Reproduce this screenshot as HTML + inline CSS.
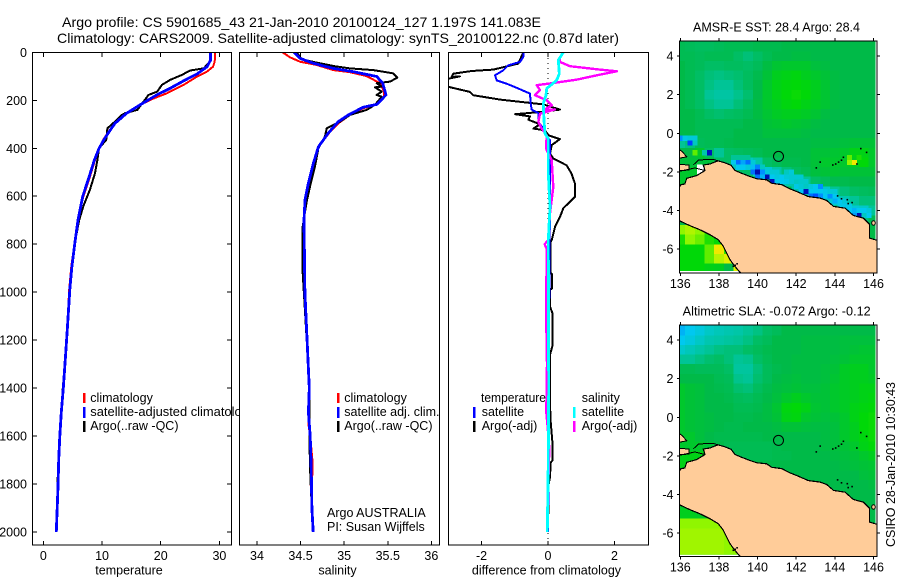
<!DOCTYPE html>
<html lang="en">
<head>
<meta charset="utf-8">
<title>Argo profile chart</title>
<style>
html,body{margin:0;padding:0;background:#fff;}
svg{display:block;}
text{font-family:"Liberation Sans",sans-serif;font-size:12.5px;fill:#000;}
.crisp{shape-rendering:crispEdges;}
.title{font-size:14px;}
.map-title{font-size:12.5px;}
</style>
</head>
<body>
<svg id="chart" xmlns="http://www.w3.org/2000/svg" width="900" height="580" viewBox="0 0 900 580">
  <rect x="0" y="0" width="900" height="580" fill="#fff"/>
  <defs>
    <clipPath id="clip-temp"><rect x="32.5" y="52.5" width="199" height="492.5"/></clipPath>
    <clipPath id="clip-sal"><rect x="239.5" y="52.5" width="200" height="492.5"/></clipPath>
    <clipPath id="clip-diff"><rect x="448.5" y="52.5" width="200" height="492.5"/></clipPath>
    <clipPath id="clip-map1"><rect x="679.5" y="41" width="197.5" height="232"/></clipPath>
    <clipPath id="clip-map2"><rect x="679.5" y="325" width="197.5" height="231.7"/></clipPath>
    <clipPath id="clip-heat1"><rect x="679.5" y="41" width="196" height="230"/></clipPath>
    <clipPath id="clip-heat2"><rect x="679.5" y="325" width="196" height="229.7"/></clipPath>
  </defs>

  <text class="title" x="62" y="27" textLength="479" lengthAdjust="spacingAndGlyphs">Argo profile: CS 5901685_43 21-Jan-2010 20100124_127 1.197S 141.083E</text>
  <text class="title" x="57" y="43" textLength="562" lengthAdjust="spacingAndGlyphs">Climatology: CARS2009. Satellite-adjusted climatology: synTS_20100122.nc (0.87d later)</text>

  <g id="panel-temp">
    <g id="temp-marks" clip-path="url(#clip-temp)"></g>
    <g>
      <rect x="83" y="393" width="2.5" height="10" fill="#ff0000"/>
      <text x="90.3" y="402">climatology</text>
      <rect x="83" y="407" width="2.5" height="11" fill="#0000ff"/>
      <text x="90.3" y="416" textLength="165" lengthAdjust="spacingAndGlyphs">satellite-adjusted climatology</text>
      <rect x="83" y="421" width="2.5" height="11" fill="#000"/>
      <text x="90.3" y="430">Argo(..raw -QC)</text>
    </g>
    <g id="temp-axes"></g>
    <text x="129" y="574.5" text-anchor="middle">temperature</text>
  </g>

  <g id="panel-sal">
    <rect x="239.5" y="46" width="205" height="502" fill="#fff"/>
    <g id="sal-marks" clip-path="url(#clip-sal)"></g>
    <g>
      <rect x="337" y="393" width="2.5" height="10" fill="#ff0000"/>
      <text x="344.3" y="402">climatology</text>
      <rect x="337" y="407" width="2.5" height="11" fill="#0000ff"/>
      <text x="344.3" y="416">satellite adj. clim.</text>
      <rect x="337" y="421" width="2.5" height="11" fill="#000"/>
      <text x="344.3" y="430">Argo(..raw -QC)</text>
    </g>
    <text x="327" y="517">Argo AUSTRALIA</text>
    <text x="327" y="531">PI: Susan Wijffels</text>
    <g id="sal-axes"></g>
    <text x="337.5" y="574.5" text-anchor="middle">salinity</text>
  </g>

  <g id="panel-diff">
    <line x1="548" x2="548" y1="53" y2="545" stroke="#000" stroke-width="1" stroke-dasharray="1,4" class="crisp"/>
    <g id="diff-marks" clip-path="url(#clip-diff)"></g>
    <g>
      <text x="481" y="402" textLength="65" lengthAdjust="spacingAndGlyphs">temperature</text>
      <rect x="473" y="407" width="2.5" height="11" fill="#0000ff"/>
      <text x="481.7" y="416">satellite</text>
      <rect x="473" y="421" width="2.5" height="11" fill="#000"/>
      <text x="481.7" y="430">Argo(-adj)</text>
      <text x="581.7" y="402">salinity</text>
      <rect x="573" y="407" width="2.5" height="11" fill="#00ffff"/>
      <text x="581.7" y="416">satellite</text>
      <rect x="573" y="421" width="2.5" height="11" fill="#ff00ff"/>
      <text x="581.7" y="430">Argo(-adj)</text>
    </g>
    <g id="diff-axes"></g>
    <text x="546.5" y="574.5" text-anchor="middle">difference from climatology</text>
  </g>

  <g id="map1">
    <text class="map-title" x="693" y="31.5" textLength="167" lengthAdjust="spacingAndGlyphs">AMSR-E SST: 28.4  Argo: 28.4</text>
  </g>
  <g id="map2">
    <text class="map-title" x="682.7" y="315.5" textLength="188" lengthAdjust="spacingAndGlyphs">Altimetric SLA: -0.072  Argo: -0.12</text>
  </g>

  <text transform="translate(895,547) rotate(-90)" textLength="165" lengthAdjust="spacingAndGlyphs">CSIRO 28-Jan-2010 10:30:43</text>
</svg>

<script>
// ---------- depth tick data ----------
const depthTicks = [0, 200, 400, 600, 800, 1000, 1200, 1400, 1600, 1800, 2000];
const tempTicks = [0, 10, 20, 30];
const salTicks = [34, 34.5, 35, 35.5, 36];
const salTickLabels = ['34', '34.5', '35', '35.5', '36'];
const diffTicks = [-2, 0, 2];
const lonTicks = [136, 138, 140, 142, 144, 146];
const latTicks = [4, 2, 0, -2, -4, -6];

// ---------- temperature profiles ----------
const tempClimDepth = [0, 39, 60, 80, 101, 136, 171, 192, 219, 254, 296, 331, 365, 400, 449, 518, 601, 699, 796, 893, 990, 1200, 1400, 1600, 1800, 2000];
const tempClimValue = [29.26, 29.2, 28.9, 27.9, 26.2, 23.9, 21.05, 18.8, 16.5, 14.2, 12.2, 11.1, 10.2, 9.5, 8.8, 7.95, 6.8, 5.9, 5.3, 4.75, 4.4, 3.95, 3.4, 2.8, 2.5, 2.2];
const tempAdjDepth = [0, 32, 60, 90, 115, 150, 178, 219, 254, 296, 331, 365, 400, 449, 518, 601, 699, 796, 893, 990, 1200, 1400, 1500, 1600, 1700, 1800, 1900, 2000];
const tempAdjValue = [28.5, 28.5, 27.9, 26.2, 24.2, 21.6, 19.3, 16.5, 14.2, 12.2, 11.2, 10.3, 9.5, 8.7, 7.8, 6.7, 5.9, 5.35, 4.85, 4.5, 3.95, 3.4, 3.05, 2.8, 2.6, 2.5, 2.35, 2.2];
const tempArgoDepth = [0, 39, 67, 76, 94, 115, 136, 164, 178, 205, 240, 254, 261, 289, 317, 365, 400, 449, 504, 572, 642, 699, 796, 893, 990, 1200, 1400, 1600, 1760, 1900, 2000];
const tempArgoValue = [28.5, 28.4, 27.3, 25, 23.6, 21.6, 20.2, 19.4, 17.9, 17.1, 16, 13.9, 13.4, 12.2, 10.9, 10.7, 9.5, 9.2, 8.8, 7.95, 6.8, 6.1, 5.35, 4.85, 4.5, 3.95, 3.3, 2.8, 2.45, 2.35, 2.2];

// ---------- salinity profiles ----------
const salClimDepth = [0, 21, 39, 53, 74, 83, 99, 129, 164, 185, 217, 233, 261, 296, 332, 394, 464, 547, 615, 685, 892, 1032, 1200, 1400, 1550, 1600, 1700, 1760, 1800, 1900, 2000];
const salClimValue = [34.294, 34.379, 34.493, 34.685, 34.876, 35.067, 35.258, 35.411, 35.457, 35.457, 35.373, 35.22, 35.067, 34.933, 34.837, 34.704, 34.646, 34.589, 34.551, 34.539, 34.539, 34.551, 34.575, 34.6, 34.59, 34.61, 34.635, 34.635, 34.616, 34.63, 34.642];
const salAdjDepth = [0, 25, 46, 67, 81, 101, 129, 178, 217, 229, 261, 289, 337, 394, 464, 547, 615, 700, 1000, 1200, 1400, 1500, 1600, 1700, 1800, 1900, 2000];
const salAdjValue = [34.424, 34.493, 34.646, 34.876, 35.105, 35.373, 35.442, 35.48, 35.373, 35.22, 35.048, 34.933, 34.818, 34.704, 34.646, 34.589, 34.551, 34.539, 34.55, 34.575, 34.6, 34.59, 34.61, 34.62, 34.625, 34.63, 34.645];
const salArgoDepth = [0, 29, 43, 57, 67, 74, 88, 106, 122, 129, 143, 146, 164, 178, 185, 219, 240, 261, 289, 317, 351, 400, 476, 560, 622, 726, 920, 1032, 1200, 1400, 1600, 1750, 2000];
const salArgoValue = [34.455, 34.512, 34.685, 34.876, 35.067, 35.335, 35.564, 35.61, 35.526, 35.373, 35.43, 35.354, 35.43, 35.373, 35.43, 35.354, 35.258, 35.067, 34.952, 34.8, 34.78, 34.704, 34.665, 34.608, 34.57, 34.524, 34.524, 34.543, 34.57, 34.6, 34.6, 34.61, 34.64];

// ---------- difference profiles ----------
const diffTempSatDepth = [0, 19, 40, 54, 75, 96, 117, 131, 151, 172, 214, 239, 253, 290, 318, 353, 367, 600, 1000, 1400, 1700, 2000];
const diffTempSatValue = [-0.742, -0.742, -0.842, -1.193, -1.343, -1.594, -1.544, -1.243, -0.892, -0.541, -0.521, -0.491, -0.291, -0.291, -0.14, -0.04, 0.06, 0.06, 0.04, 0.02, 0.02, 0];
const diffTempArgoDepth = [0, 47, 72, 78, 89, 103, 100, 110, 125, 144, 165, 179, 197, 211, 217, 239, 249, 258, 267, 281, 300, 318, 325, 346, 362, 387, 422, 443, 471, 506, 547, 603, 650, 686, 728, 783, 790, 920, 925, 985, 990, 1060, 1090, 1220, 1260, 1350, 1520, 1570, 1640, 1700, 1710, 1770, 1800, 2000];
const diffTempArgoValue = [-0.742, -0.892, -1.644, -2.296, -2.85, -2.9, -2.65, -3.0, -3.4, -3.0, -2.35, -2.25, -1.44, -0.54, -0.14, 0.36, -0.24, -0.99, -0.54, -0.59, -0.24, -0.44, -0.09, 0.01, 0.36, 0.11, 0.06, 0.16, 0.56, 0.71, 0.81, 0.81, 0.46, 0.36, 0.21, 0.11, 0.08, 0.08, 0.12, 0.12, 0.06, 0.06, 0.14, 0.14, 0.06, 0.06, 0.07, 0.1, 0.14, 0.14, 0.08, 0.06, 0.02, 0];
const diffSalSatDepth = [0, 33, 89, 117, 151, 179, 214, 283, 339, 360, 506, 644, 783, 1400, 1700, 2000];
const diffSalSatValue = [0.46, 0.31, 0.34, 0.26, -0.04, -0.06, -0.14, -0.12, -0.09, 0.01, 0.01, 0.06, 0.01, 0.02, 0.01, -0.02];
const diffSalArgoDepth = [26, 40, 58, 72, 79, 96, 114, 128, 137, 158, 179, 200, 221, 242, 238, 256, 290, 318, 346, 401, 450, 561, 672, 783, 800, 820, 920, 960, 1060, 1300, 1500, 1580, 1650, 1700, 1760];
const diffSalArgoValue = [0.36, 0.36, 0.66, 1.56, 2.07, 1.47, 0.87, 0.16, -0.34, -0.24, -0.39, -0.04, 0.11, -0.14, 0.21, -0.24, -0.29, -0.19, -0.04, -0.06, 0.11, 0.16, 0.06, 0.01, -0.1, -0.04, -0.04, -0.06, -0.06, -0.03, -0.05, 0.0, 0.04, 0.03, 0.02];

// ---------- map grids (colour-scale level per 0.5 degree cell) ----------
const gridLons = [136, 136.5, 137, 137.5, 138, 138.5, 139, 139.5, 140, 140.5, 141, 141.5, 142, 142.5, 143, 143.5, 144, 144.5, 145, 145.5, 146];
const gridLats = [4.5, 4, 3.5, 3, 2.5, 2, 1.5, 1, 0.5, 0, -0.5, -1, -1.5, -2, -2.5, -3, -3.5, -4, -4.5, -5, -5.5, -6, -6.5, -7];
const sstLevels = [
[6.6,6.4,6.2,6.2,6.4,6.6,6.6,6.6,6.8,6.8,6.8,7,7,7,7,7,7,7,7,7,7],
[6.6,6.6,6.4,6.6,6.6,6.6,6,5.6,6,6.6,7,7,7.2,7.2,7,7,7,7,7,7,7],
[7,6.6,6.4,6,6,6.2,6.2,6,6.4,7.2,7.8,8,8,8,7.4,7.2,7,7,7,7,7],
[7,6.6,6,5.6,5.4,5.6,5.8,6.2,6.8,7.6,8.4,8.6,8.8,8.4,8,7.6,7.2,7,7,7,7],
[7,6.6,6,5.4,5,5,5.6,6.2,7,8,8.6,8.9,9,8.8,8.4,7.8,7.2,7,7,7,7],
[7,6.6,6,5,4.7,4.7,5.2,5.8,7,8,8.6,9,9.2,9,8.4,7.8,7.2,7,7,7,7],
[7,6.6,6,5.4,5,5,5.6,6.2,7.2,8,8.4,8.8,9,8.6,8.2,7.8,7.2,7,7,7,7],
[7,7,6.6,6,5.8,6,6.2,6.6,7.2,7.8,8.2,8.4,8.4,8.2,7.8,7.2,7,7,7,7,7],
[7,7,6.6,6.6,6.6,6.6,6.6,7,7,7.6,7.8,8,7.8,7.6,7.2,7,7,7,7,7,7],
[7,7,6.6,6.6,6.6,6.6,7,7,7,7.4,7.4,7.4,7.4,7.2,7,7,7,7,7,7,7],
[5,5.5,6.4,6.6,6.6,6.8,7,7,7,7,7,7,7,7,7.2,7.2,7.2,7.4,7.6,7.6,7.6],
[7,7,8,6,5,6,6.2,6.4,6.6,7,7,7,7,7,7.6,7.6,7.8,8,8.6,8.6,8],
[7.5,7.5,7.5,7.5,6,6,5,4,4.6,6,6.4,6.8,6.8,7,7.6,8,8,8,8.4,9,8],
[8,8,8,8,8,8,6,6,4,3.6,4.6,5.6,6.2,6.6,7.4,7.6,7.8,7.6,7.6,7.6,7.6],
[8,8,8,8,8,8,8,8,8,8,4,4.4,4.6,5,6,6.4,6.8,6.8,7,7,7],
[7,7,7,7,7,7,7,7,7,7,7,7,4.6,4.4,4.2,3.8,5,5.6,6,6.2,6.4],
[7,7,7,7,7,7,7,7,7,7,7,7,7,7,7,4,3.6,4.4,5,5.6,5.6],
[7,7,7,7,7,7,7,7,7,7,7,7,7,7,7,7,7,6,3.6,3.8,5],
[7,7,7,7,7,7,7,7,7,7,7,7,7,7,7,7,7,7,7,5.5,6.6],
[11,11.4,11,10,9,8.6,8,8,8,8,8,8,8,8,8,8,8,8,8,7,7],
[9.5,11,10.6,9.6,9,9,8.6,8,8,8,8,8,8,8,8,8,8,8,8,7,7],
[9,9,9,10.5,12.5,10,9,9,9,9,9,9,9,9,9,9,9,9,9,9,9],
[9,9,9,10.5,11.5,12,9,9,9,9,9,9,9,9,9,9,9,9,9,9,9],
[9,9,9,8.6,8.4,7,12,9,9,9,9,9,9,9,9,9,9,9,9,9,9]
];
const slaLevels = [
[2.6,3,3.4,3.9,4.2,4.4,4.6,5,5.4,6,6.4,7,7,7,7,7,7,7,7,7,7],
[3,3.4,3.9,4.4,4.6,4.8,5,5.4,6,6.4,7,7,7,7.2,7.2,7.2,7.2,7.4,7.4,7.4,7.4],
[3.8,4.2,4.6,5,5.4,5.6,5.6,6,6.4,6.8,7,7,7,7.2,7.2,7.2,7.2,7.4,7.6,7.8,7.8],
[5,5,5.4,5.8,6,5.6,5,5.2,6,6.6,7,7,7.2,7.2,7.2,7.2,7.4,7.6,8,8,8],
[6.6,6.6,6.4,6.4,6.4,6,4.8,4.8,5.6,6.4,6.8,7,7.2,7.2,7.2,7.4,7.6,8.2,8.4,8.4,8],
[7,7,7,7,6.6,6.4,5.2,5,5.8,6.4,7,7.2,7.4,7.2,7.2,7.4,7.8,8.2,8.4,8.4,8.2],
[8,7.6,7.4,7,6.8,6.6,5.8,5.6,6.2,6.8,7.2,7.4,7.6,7.4,7.4,7.6,8,8.2,8.4,8.6,8.6],
[8,7.6,7.4,7,7,6.8,6.4,6.2,6.6,7,7.4,8,8.4,8,7.6,7.6,8,8.2,8.4,8.6,8.8],
[8,7.6,7.4,7,7,7,6.6,6.6,6.8,7.2,7.8,8.8,9,8.6,7.8,7.6,8,8.2,8.6,8.8,9],
[8,7.6,7.4,7.2,7,7,6.8,6.8,7,7.2,7.6,8.6,8.8,8,7.6,7.4,7.6,8,8.6,9,9.2],
[8,7.6,7.4,7.2,7,6.8,6.8,7,7,7,7.2,7.6,7.6,7.4,7.2,7.2,7.4,8,8.4,9,9.2],
[8,8,7.4,7,6.8,6.8,6.8,6.8,6.8,7,7,7,7,7,7,7.2,7.4,8,8.4,8.8,9.2],
[8,8,8,7.6,7,6.6,6.6,6.6,6.6,6.6,6.8,7,7,7,7,7.2,7.4,7.6,8,8.6,9],
[8.6,8.6,8.6,8.6,8.6,7.4,6.6,6.6,6.6,6.6,6.8,6.8,7,7,7,7,7.2,7.4,7.6,8,8.4],
[8.6,8.6,8.6,8.6,8.6,7,7,7,7,7,7,7,7,7,7,7,7,7.2,7.4,7.6,7.8],
[8.6,8.6,7,7,7,7,7,7,7,7,7,7,7,7,7,7,7,7,7,7.4,7.6],
[7,7,7,7,7,7,7,7,7,7,7,7,7,7,7,7,7,7,7,7,7.2],
[7,7,7,7,7,7,7,7,7,7,7,7,7,7,7,7,7,7,7,7,7],
[8,8,7,7,7,7,7,7,7,7,7,7,7,7,7,7,7,7,7,7,7],
[8.4,8.4,8.2,8,8,8,8,8,8,8,8,8,8,8,8,8,8,8,8,7,7],
[11,11,11,11,11,10,10,10,10,10,10,10,10,10,10,10,10,10,10,7,7],
[11.2,11.2,11.2,11.2,11.2,11,11,11,11,11,11,11,11,11,11,11,11,11,11,11,11],
[11.2,11.2,11.2,11.2,11.2,11,11,11,11,11,11,11,11,11,11,11,11,11,11,11,11],
[11.2,11.2,11.2,11.2,11.2,11,11,11,11,11,11,11,11,11,11,11,11,11,11,11,11]
];
// fine 0.25 degree cells along the New Guinea coast (lon, lat, level; level null = no data)
const sstFineLon = [136,136.25,136.5,136.75,136.5,136.75,137.5,137.25,136.75,138.75,139,139.25,139.5,139.75,138.75,139,139.25,139.5,139.75,140,140.25,139.75,140,140.25,140.5,140.75,141,141.5,141.75,140,140.25,140.5,140.75,141,141.25,141.5,140.75,141,141.25,141.5,141.75,142,142,142.25,142.5,142.75,143,143.25,142.25,142.5,142.75,143,143.25,143.5,142.75,143,143.25,143.5,143.75,144,144,144.25,144.5,145,145.25,145.5,145.75,145.25,145,145.5,145.75,144.75,145,144.75,145.25,137,137.25,137,137.25,138.75,139,139.25,139.5,141.75,142,142.25,142.25,142.5,144.25,144.5,144.75,144.75,143.75,144];
const sstFineLat = [-0.25,-0.25,-0.25,-0.25,-0.5,-0.5,-1,-1,-1,-1.5,-1.5,-1.5,-1.5,-1.5,-1.75,-1.75,-1.75,-1.75,-1.75,-1.75,-1.75,-2,-2,-2,-2,-2,-2,-2,-2,-2.25,-2.25,-2.25,-2.25,-2.25,-2.25,-2.25,-2.5,-2.5,-2.5,-2.5,-2.5,-2.5,-2.75,-2.75,-2.75,-2.75,-2.75,-2.75,-3,-3,-3,-3,-3,-3,-3.25,-3.25,-3.25,-3.25,-3.25,-3.25,-3.5,-3.5,-3.5,-4,-4,-4,-4,-4.25,-4.25,-4.25,-4.25,-1.25,-1.5,-1.5,-1.25,-1.75,-1.75,-2,-2,-1.25,-1.25,-1.25,-1.25,-2.25,-2.25,-2.25,-2.5,-2.5,-3.75,-3.75,-3.75,-4,-3,-3];
const sstFineLevel = [2,3.2,3.5,3.5,1,4,0.3,4.5,10.5,3,1.6,2.4,1.6,3.5,4,3,3,3.5,2.8,1.8,4,1.6,0.2,2,3.4,3.6,3.6,4,3.5,1.6,2.6,0.2,3,3.4,3,3.5,0.3,3,3,3.2,3.6,4,3.2,3.6,4,3.4,3,2,3,0.3,3,3,3,3.2,1.6,1.2,2,3,2,3,2.5,3,3.5,2.6,3,3,3.5,0.2,2.2,4,3,10.5,12.5,11,9.6,null,null,null,null,5,5,5,5,3.6,3.6,3.6,3.8,3.8,3.2,3.2,3.2,3,3.6,3.6];

// ---------- coast outlines and markers ----------
const coastLon = [135.95,136.02,136.24,136.33,136.85,137.28,137.19,137.54,137.80,137.97,138.31,138.63,138.83,139.18,139.61,139.96,140.47,140.73,141.25,141.68,142.11,142.63,143.24,143.58,143.93,144.53,144.96,145.48,145.79,145.79,146.21,146.3,139.26,138.83,138.57,138.23,137.97,137.54,137.02,136.5,135.95];
const coastLat = [-2.81,-2.67,-2.62,-2.33,-2.19,-1.93,-1.64,-1.59,-1.48,-1.43,-1.53,-1.66,-1.93,-2.07,-2.24,-2.36,-2.41,-2.59,-2.66,-2.88,-3.05,-3.28,-3.36,-3.48,-3.79,-3.88,-4.26,-4.40,-4.71,-5.43,-5.55,-7.4,-7.4,-6.9,-6.55,-5.86,-5.52,-5.26,-5.0,-4.79,-4.53];
const islandALon = [135.9, 136.1, 136.33, 135.9];
const islandALat = [-0.82, -0.95, -1.22, -1.3];
const islandBLon = [135.9, 136.45, 136.45, 135.9];
const islandBLat = [-1.6, -1.65, -1.9, -1.95];
const borderLon = [136.68, 136.95, 137.7, 137.97];
const borderLat = [-1.63, -1.38, -1.35, -1.43];
const borderBLon = [135.95, 136.75, 137.28];
const borderBLat = [-1.97, -1.8, -1.93];
const speckLon = [145.3,145.6,144.4,144.3,144.15,144,143.85,143.2,143,145.1,144.1,144.3,144.6,144.65,144.85,138.9,138.8,138.7];
const speckLat = [-0.75,-0.95,-1.2,-1.35,-1.45,-1.55,-1.6,-1.45,-1.75,-1.55,-3.2,-3.35,-3.4,-3.6,-3.55,-6.72,-6.8,-6.85];
const floatLon = 141.083;
const floatLat = -1.197;

// ---------- colour scale ----------
const levelColors = [[0,0,156],[0,64,255],[0,144,255],[0,200,240],[0,200,192],[0,196,150],[0,190,100],[0,186,72],[0,200,44],[0,216,8],[48,228,0],[144,246,0],[224,240,0],[255,224,0]];
function levelColor(v) {
  if (v === null) return '#fff';
  const t = Math.max(0, Math.min(levelColors.length - 1.001, v));
  const i = Math.floor(t), f = t - i;
  const a = levelColors[i], b = levelColors[i + 1];
  return 'rgb(' + a.map((c, k) => Math.round(c + (b[k] - c) * f)).join(',') + ')';
}

// ---------- axis functions ----------
const yDepth = d => 52.3 + d * 0.2399;
const xTemp = v => 43.4 + v * 5.867;
const xSal = v => 257 + (v - 34) * 87.17;
const xDiff = v => 548 + v * 33.25;
const xLon = v => 680.3 + (v - 136) * 19.32;
const yLat1 = v => 133.3 - v * 19.3;
const yLat2 = v => 417.3 - v * 19.3;

const NS = 'http://www.w3.org/2000/svg';
function mk(tag, parent, attrs) {
  const el = document.createElementNS(NS, tag);
  for (const k in attrs) el.setAttribute(k, attrs[k]);
  parent.appendChild(el);
  return el;
}

function drawLine(parent, xFn, values, depths, color, width, name) {
  const pts = values.map((v, i) => xFn(v).toFixed(1) + ',' + yDepth(depths[i]).toFixed(1)).join(' ');
  const el = mk('polyline', parent, {points: pts, fill: 'none', stroke: color, 'stroke-width': width, 'stroke-linejoin': 'round', class: 'crisp'});
  
  
}

function seg(parent, x1, y1, x2, y2, name) {
  const el = mk('line', parent, {x1: x1, y1: y1, x2: x2, y2: y2, stroke: '#000', 'stroke-width': 1, class: 'crisp'});
  
  
}

function label(parent, x, y, str, anchor, name) {
  const el = mk('text', parent, {x: x, y: y, 'text-anchor': anchor});
  el.textContent = str;
  
  
}

function drawFrame(parent, x0, x1, name) {
  const el = mk('rect', parent, {x: x0, y: 52.5, width: x1 - x0, height: 492.5, fill: 'none', stroke: '#000', 'stroke-width': 1, class: 'crisp'});
  
  
}

function drawXTicks(parent, ticks, labels, xFn) {
  ticks.forEach((t, i) => {
    seg(parent, xFn(t), 52.5, xFn(t), 57, 'x-tick-top');
    seg(parent, xFn(t), 541, xFn(t), 545, 'x-tick-bottom');
    label(parent, xFn(t), 560, labels[i], 'middle', 'x-tick-label');
  });
}

// ---------- temperature panel ----------
const tempMarks = document.getElementById('temp-marks');
const tempAxes = document.getElementById('temp-axes');
drawLine(tempMarks, xTemp, tempClimValue, tempClimDepth, '#ff0000', 2, 'temperature-climatology-line');
drawLine(tempMarks, xTemp, tempArgoValue, tempArgoDepth, '#000000', 2, 'temperature-argo-line');
drawLine(tempMarks, xTemp, tempAdjValue, tempAdjDepth, '#0000ff', 2.8, 'temperature-satellite-adjusted-line');
drawFrame(tempAxes, 32.5, 231.5, 'temperature-axes-frame');
drawXTicks(tempAxes, tempTicks, tempTicks.map(String), xTemp);
depthTicks.forEach(d => {
  seg(tempAxes, 32.5, yDepth(d), 37, yDepth(d), 'depth-tick-left');
  seg(tempAxes, 227, yDepth(d), 231.5, yDepth(d), 'depth-tick-right');
  label(tempAxes, 27, yDepth(d) + 4.5, String(d), 'end', 'depth-tick-label');
});

// ---------- salinity panel ----------
const salMarks = document.getElementById('sal-marks');
const salAxes = document.getElementById('sal-axes');
drawLine(salMarks, xSal, salClimValue, salClimDepth, '#ff0000', 2, 'salinity-climatology-line');
drawLine(salMarks, xSal, salArgoValue, salArgoDepth, '#000000', 2, 'salinity-argo-line');
drawLine(salMarks, xSal, salAdjValue, salAdjDepth, '#0000ff', 2.8, 'salinity-satellite-adjusted-line');
drawFrame(salAxes, 239.5, 439.5, 'salinity-axes-frame');
drawXTicks(salAxes, salTicks, salTickLabels, xSal);

// ---------- difference panel ----------
const diffMarks = document.getElementById('diff-marks');
const diffAxes = document.getElementById('diff-axes');
drawLine(diffMarks, xDiff, diffTempArgoValue, diffTempArgoDepth, '#000000', 2, 'temperature-argo-difference-line');
drawLine(diffMarks, xDiff, diffTempSatValue, diffTempSatDepth, '#0000ff', 2, 'temperature-satellite-difference-line');
drawLine(diffMarks, xDiff, diffSalArgoValue, diffSalArgoDepth, '#ff00ff', 2.4, 'salinity-argo-difference-line');
drawLine(diffMarks, xDiff, diffSalSatValue, diffSalSatDepth, '#00ffff', 2.8, 'salinity-satellite-difference-line');
drawFrame(diffAxes, 448.5, 648.5, 'difference-axes-frame');
drawXTicks(diffAxes, diffTicks, diffTicks.map(String), xDiff);

// ---------- maps ----------
function pathFrom(lons, lats, yFn, close) {
  const d = lons.map((v, i) => (i ? 'L' : 'M') + xLon(v).toFixed(1) + ' ' + yFn(lats[i]).toFixed(1)).join('');
  return close ? d + 'Z' : d;
}

function drawMap(mapId, levels, yFn, top, bottom, fine, clipMap, clipHeat) {
  const root = document.getElementById(mapId);
  const heat = mk('g', root, {'clip-path': 'url(#' + clipHeat + ')', class: 'crisp'});
  
  
  const base = mk('rect', heat, {x: 679.5, y: top, width: 197.5, height: bottom - top, fill: levelColor(levels[0][5])});
  
  
  levels.forEach((row, r) => row.forEach((v, c) => {
    const x0 = xLon(gridLons[c] - 0.25), x1 = xLon(gridLons[c] + 0.25);
    const y0 = yFn(gridLats[r] + 0.25), y1 = yFn(gridLats[r] - 0.25);
    const cell = mk('rect', heat, {x: x0.toFixed(1), y: y0.toFixed(1), width: (x1 - x0 + 0.3).toFixed(1), height: (y1 - y0 + 0.3).toFixed(1), fill: levelColor(v)});
    
    
  }));
  if (fine) {
    sstFineLon.forEach((lon, i) => {
      const x0 = xLon(lon - 0.125), x1 = xLon(lon + 0.125);
      const y0 = yFn(sstFineLat[i] + 0.125), y1 = yFn(sstFineLat[i] - 0.125);
      const cell = mk('rect', heat, {x: x0.toFixed(1), y: y0.toFixed(1), width: (x1 - x0 + 0.3).toFixed(1), height: (y1 - y0 + 0.3).toFixed(1), fill: levelColor(sstFineLevel[i])});
      
      
    });
  }

  const geo = mk('g', root, {'clip-path': 'url(#' + clipMap + ')'});
  
  
  const land = mk('path', geo, {d: pathFrom(coastLon, coastLat, yFn, true), fill: '#ffcc99', stroke: '#000', 'stroke-width': 1.2, class: 'crisp'});
  
  
  const isA = mk('path', geo, {d: pathFrom(islandALon, islandALat, yFn, true), fill: '#ffcc99', stroke: '#000', 'stroke-width': 1, class: 'crisp'});
  
  
  const isB = mk('path', geo, {d: pathFrom(islandBLon, islandBLat, yFn, true), fill: '#ffcc99', stroke: '#000', 'stroke-width': 1, class: 'crisp'});
  
  
  const bA = mk('path', geo, {d: pathFrom(borderLon, borderLat, yFn, false), fill: 'none', stroke: '#000', 'stroke-width': 1, class: 'crisp'});
  
  
  const bB = mk('path', geo, {d: pathFrom(borderBLon, borderBLat, yFn, false), fill: 'none', stroke: '#000', 'stroke-width': 1, class: 'crisp'});
  
  
  speckLon.forEach((lon, i) => {
    const sp = mk('rect', geo, {x: xLon(lon).toFixed(1), y: yFn(speckLat[i]).toFixed(1), width: 1.6, height: 1.6, fill: '#000'});
    
    
  });
  const pond = mk('ellipse', geo, {cx: xLon(146).toFixed(1), cy: yFn(-4.65).toFixed(1), rx: 1.8, ry: 2.2, fill: '#ffcc99', stroke: '#000', 'stroke-width': 1});
  
  
  const circle = mk('circle', geo, {cx: xLon(floatLon).toFixed(1), cy: yFn(floatLat).toFixed(1), r: 5, fill: 'none', stroke: '#000', 'stroke-width': 1});
  
  

  const frame = mk('rect', root, {x: 679.5, y: top, width: 197.5, height: bottom - top, fill: 'none', stroke: '#000', 'stroke-width': 1, class: 'crisp'});
  
  
  lonTicks.forEach(t => {
    seg(root, xLon(t), top - 3, xLon(t), top, 'lon-tick-top');
    seg(root, xLon(t), bottom, xLon(t), bottom + 3, 'lon-tick-bottom');
    label(root, xLon(t), bottom + 15, String(t), 'middle', 'lon-tick-label');
  });
  latTicks.forEach(t => {
    seg(root, 677, yFn(t), 679.5, yFn(t), 'lat-tick-left');
    seg(root, 877, yFn(t), 880, yFn(t), 'lat-tick-right');
    label(root, 673.5, yFn(t) + 4.5, String(t), 'end', 'lat-tick-label');
  });
}

drawMap('map1', sstLevels, yLat1, 41, 273, true, 'clip-map1', 'clip-heat1');
drawMap('map2', slaLevels, yLat2, 325, 556.7, false, 'clip-map2', 'clip-heat2');
</script>
</body>
</html>
